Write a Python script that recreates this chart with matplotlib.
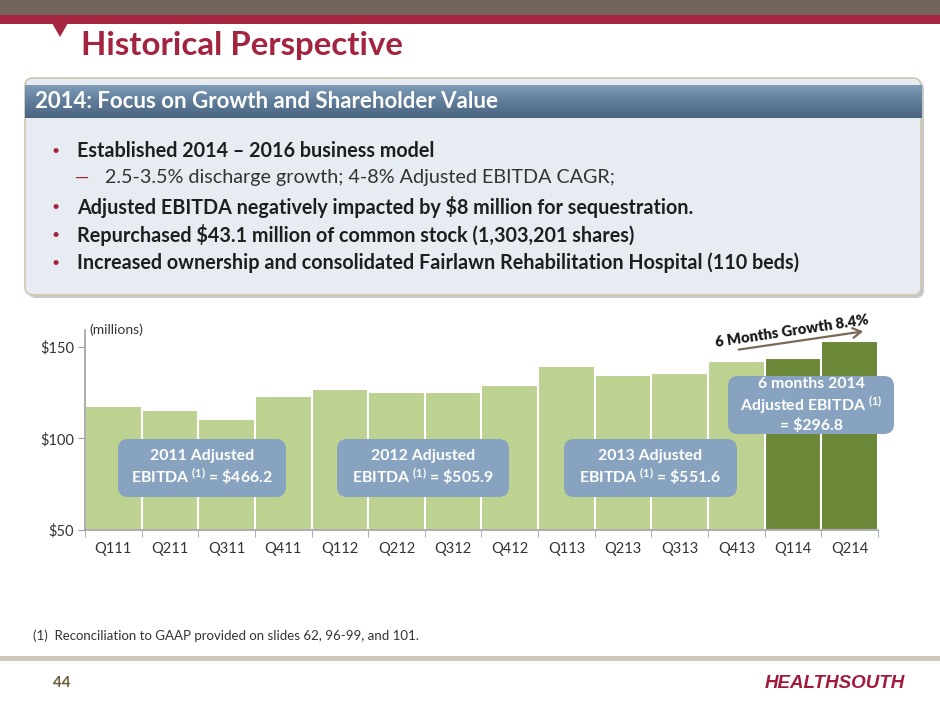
import matplotlib
matplotlib.use("Agg")
import matplotlib.pyplot as plt
from matplotlib.patches import FancyBboxPatch, Rectangle, Polygon, FancyArrowPatch
from matplotlib.colors import LinearSegmentedColormap
import numpy as np

# data
quarters = ["Q111", "Q211", "Q311", "Q411", "Q112", "Q212", "Q312", "Q412",
            "Q113", "Q213", "Q313", "Q413", "Q114", "Q214"]
ebitda = [117.4, 115.5, 110.5, 122.8, 126.9, 125.0, 125.0, 129.0,
          139.5, 134.5, 135.6, 142.0, 144.0, 152.8]
is_2014 = [False] * 12 + [True] * 2
y_ticks = [50, 100, 150]
y_labels = ["$50", "$100", "$150"]

bullets = [
    ("Established 2014 \u2013 2016 business model", "main"),
    ("2.5-3.5% discharge growth; 4-8% Adjusted EBITDA CAGR;", "sub"),
    ("Adjusted EBITDA negatively impacted by $8 million for sequestration.", "main"),
    ("Repurchased $43.1 million of common stock (1,303,201 shares)", "main"),
    ("Increased ownership and consolidated Fairlawn Rehabilitation Hospital (110 beds)", "main"),
]
callouts = [
    "2011 Adjusted\nEBITDA $^{(1)}$ = \\$466.2",
    "2012 Adjusted\nEBITDA $^{(1)}$ = \\$505.9",
    "2013 Adjusted\nEBITDA $^{(1)}$ = \\$551.6",
    "6 months 2014\nAdjusted EBITDA $^{(1)}$\n= \\$296.8",
]

W, H = 940, 705
RED = "#a3243f"
LIGHT_GREEN = "#bdd191"
DARK_GREEN = "#6b8839"
CALLOUT = "#87a3bf"
TEXT = "#1e1e1e"

plt.rcParams["font.family"] = ["Lato", "DejaVu Sans"]
plt.rcParams["mathtext.fontset"] = "custom"
plt.rcParams["mathtext.rm"] = "Lato:bold"
plt.rcParams["mathtext.it"] = "Lato:bold"

fig = plt.figure(figsize=(W / 100, H / 100), dpi=100)


def fx(px):
    return px / W


def fy(py):
    return 1 - py / H


def box(x0, y0, x1, y1, **kw):
    return Rectangle((fx(x0), fy(y1)), fx(x1) - fx(x0), fy(y0) - fy(y1),
                     transform=fig.transFigure, **kw)


def rbox(x0, y0, x1, y1, pad=10, **kw):
    return FancyBboxPatch((fx(x0), fy(y1)), fx(x1) - fx(x0), fy(y0) - fy(y1),
                          boxstyle=f"round,pad=0,rounding_size={pad / W}",
                          transform=fig.transFigure, mutation_aspect=W / H, **kw)


# header strip
fig.patches.append(box(0, 0, W, 15, color="#73645c", lw=0))
fig.patches.append(box(0, 15, W, 24, color="#a6253f", lw=0))
fig.patches.append(Polygon([(fx(52), fy(23)), (fx(68), fy(23)), (fx(60), fy(37))],
                           closed=True, transform=fig.transFigure, color="#a6253f", lw=0))
fig.text(fx(81), fy(45), "Historical Perspective", color=RED, fontsize=23.8,
         fontweight="bold", va="center", ha="left")

# summary box
fig.patches.append(rbox(28, 81, 924, 298, pad=8, facecolor="#c9c9c9", lw=0))
fig.patches.append(rbox(25, 78, 921, 295, pad=8, facecolor="#e7ecf2",
                        edgecolor="#cfc6b2", lw=1.2))
band = fig.add_axes([fx(25), fy(118), fx(922) - fx(25), fy(85) - fy(118)])
band.set_zorder(2)
band.imshow(np.linspace(0, 1, 50).reshape(-1, 1), aspect="auto",
            cmap=LinearSegmentedColormap.from_list("band", ["#7f9db9", "#5f7c99", "#4a6580"]),
            extent=[0, 1, 0, 1])
band.axis("off")
fig.text(fx(35), fy(102), "2014: Focus on Growth and Shareholder Value", color="white",
         fontsize=16, fontweight="bold", va="center", ha="left", zorder=4)

line_y = [151, 178, 207, 235, 263]
for (txt, kind), yy in zip(bullets, line_y):
    if kind == "main":
        fig.text(fx(56), fy(yy), "\u2022", color=RED, fontsize=10, va="center", ha="center")
        fig.text(fx(77), fy(yy), txt, color=TEXT, fontsize=14.2, fontweight="bold",
                 va="center", ha="left")
    else:
        fig.text(fx(75), fy(yy), "\u2014", color=RED, fontsize=13, va="center", ha="left")
        fig.text(fx(105), fy(yy), txt, color="#333333", fontsize=14.2, va="center", ha="left")

# chart
ax = fig.add_axes([fx(85), fy(530), fx(878) - fx(85), fy(330) - fy(530)])
x = np.arange(len(quarters))
colors = [DARK_GREEN if flag else LIGHT_GREEN for flag in is_2014]
ax.bar(x, [v - 50 for v in ebitda], bottom=50, width=1.0, color=colors,
       edgecolor="white", linewidth=1.5)
ax.set_xlim(-0.5, len(quarters) - 0.5)
ax.set_ylim(50, 159)
ax.set_yticks(y_ticks, y_labels)
ax.set_xticks(x, quarters)
ax.set_xticks(np.arange(-0.5, len(quarters)), minor=True)
ax.tick_params(axis="x", which="major", length=0, pad=9, labelsize=10.5, labelcolor="#333333")
ax.tick_params(axis="x", which="minor", length=5, color="#a0a0a0", direction="out")
ax.tick_params(axis="y", length=5, color="#a0a0a0", labelsize=10.5, labelcolor="#333333", pad=3)
for side in ("top", "right"):
    ax.spines[side].set_visible(False)
for side in ("left", "bottom"):
    ax.spines[side].set_color("#a0a0a0")
    ax.spines[side].set_linewidth(1.2)
ax.text(0.005, 1.0, "(millions)", transform=ax.transAxes, fontsize=10,
        color="#333333", va="center", ha="left")

# callouts over the bars
callout_boxes = [(118, 439, 286, 497), (337, 439, 509, 497),
                 (564, 439, 737, 497), (728, 376, 894, 434)]
for (x0, y0, x1, y1), txt in zip(callout_boxes, callouts):
    fig.patches.append(rbox(x0, y0, x1, y1, pad=10, facecolor=CALLOUT, lw=0))
    fig.text(fx((x0 + x1) / 2), fy((y0 + y1) / 2), txt, color="white", fontsize=11.4,
             fontweight="bold", va="center", ha="center", linespacing=1.2)

# growth arrow
fig.add_artist(FancyArrowPatch(
    (fx(736), fy(350)), (fx(866), fy(331)), transform=fig.transFigure,
    arrowstyle="->,head_length=6,head_width=3.5", color="#7a6a55", lw=1.6))
fig.text(fx(792), fy(331), "6 Months Growth 8.4%", rotation=8.5, color="#1a1a1a",
         fontsize=10.6, fontweight="heavy", va="center", ha="center",
         rotation_mode="anchor")

# footer
fig.text(fx(33), fy(636), "(1)  Reconciliation to GAAP provided on slides 62, 96-99, and 101.",
         color="#333333", fontsize=9.5, va="center", ha="left")
fig.patches.append(box(0, 656, W, 661, color="#cec6b6", lw=0))
fig.text(fx(53), fy(683), "44", color="#6b5e3e", fontsize=11, fontweight="bold",
         va="center", ha="left")
fig.text(fx(905), fy(683), "HEALTHSOUTH", color="#a01c3c", fontsize=13.5,
         fontweight="heavy", fontstyle="italic", va="center", ha="right",
         family=["Liberation Sans", "DejaVu Sans"])

fig.savefig("out.png", dpi=100)
